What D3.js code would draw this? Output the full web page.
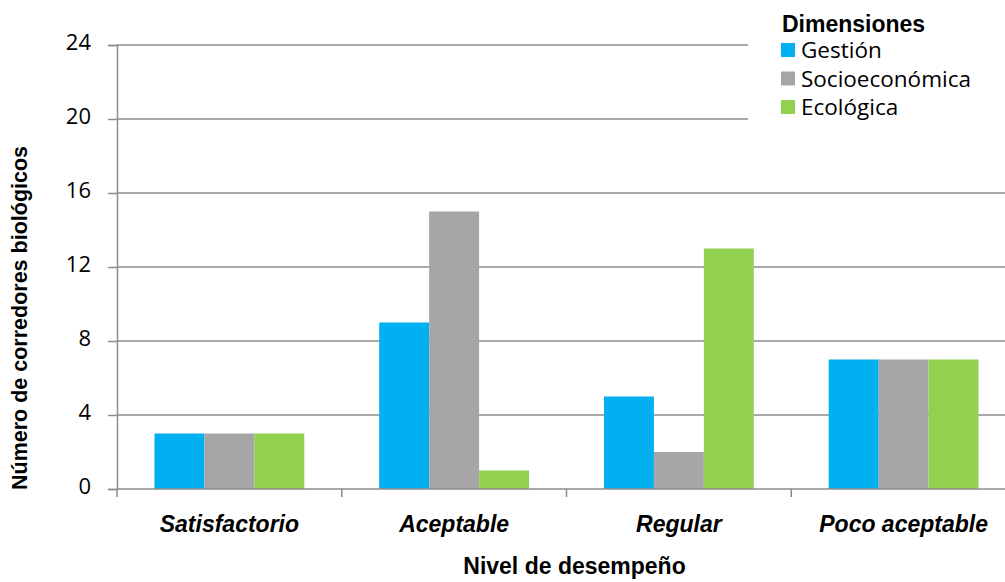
<!DOCTYPE html>
<html>
<head>
<meta charset="utf-8">
<script src="https://cdn.jsdelivr.net/npm/d3@7"></script>
<style>
  body { margin: 0; background: #fff; }
  text { font-family: "Liberation Sans", Arial, sans-serif; }
</style>
</head>
<body>
<script>
// chart data
const categories = ['Satisfactorio', 'Aceptable', 'Regular', 'Poco aceptable'];
const seriesNames = ['Gestión', 'Socioeconómica', 'Ecológica'];
const gestion = [3, 9, 5, 7];
const socioeconomica = [3, 15, 2, 7];
const ecologica = [3, 1, 13, 7];
const yTicks = [0, 4, 8, 12, 16, 20, 24];
const colors = ['#00b0f0', '#a6a6a6', '#92d050'];

const W = 1005, H = 582;
const m = { left: 117, right: -11, top: 45, bottom: 93 };

const svg = d3.select('body')
  .append('svg')
  .attr('width', W)
  .attr('height', H);

const x = d3.scaleBand()
  .domain(categories)
  .range([m.left, W - m.right])
  .paddingInner(0)
  .paddingOuter(0);

const x1 = d3.scaleBand()
  .domain(seriesNames)
  .range([x.bandwidth() / 6, x.bandwidth() * 5 / 6]);

const y = d3.scaleLinear()
  .domain([0, 24])
  .range([H - m.bottom, m.top]);

// gridlines
svg.append('g')
  .selectAll('line')
  .data(yTicks.slice(1))
  .enter()
  .append('line')
  .attr('x1', m.left)
  .attr('x2', W)
  .attr('y1', d => y(d))
  .attr('y2', d => y(d))
  .attr('stroke', '#8c8c8c')
  .attr('stroke-width', 1.5);

// bars
const rows = categories.map((c, i) => ({
  cat: c,
  vals: [gestion[i], socioeconomica[i], ecologica[i]]
}));

const groups = svg.append('g')
  .selectAll('g')
  .data(rows)
  .enter()
  .append('g')
  .attr('transform', d => 'translate(' + x(d.cat) + ',0)');

groups.selectAll('rect')
  .data(d => d.vals.map((v, k) => ({ name: seriesNames[k], v, k })))
  .enter()
  .append('rect')
  .attr('x', d => x1(d.name))
  .attr('width', x1.bandwidth())
  .attr('y', d => y(d.v))
  .attr('height', d => y(0) - y(d.v))
  .attr('fill', d => colors[d.k]);

// y axis
const yAxis = svg.append('g')
  .attr('transform', 'translate(' + m.left + ',0)')
  .call(d3.axisLeft(y).tickValues(yTicks).tickSize(9).tickPadding(17));
yAxis.select('.domain').attr('stroke', '#8c8c8c').attr('stroke-width', 1.5);
yAxis.selectAll('.tick line').attr('stroke', '#8c8c8c').attr('stroke-width', 1.5);
yAxis.selectAll('.tick text')
  .attr('font-size', 22)
  .attr('fill', '#000')
  .attr('dy', '0.2em')
  .style('font-family', '"Open Sans", "Liberation Sans", sans-serif');

// x axis
const xAxis = svg.append('g')
  .attr('transform', 'translate(0,' + y(0) + ')');
xAxis.append('line')
  .attr('x1', m.left).attr('x2', W)
  .attr('stroke', '#8c8c8c').attr('stroke-width', 1.5);
xAxis.selectAll('.xt')
  .data(categories)
  .enter()
  .append('line')
  .attr('class', 'xt')
  .attr('x1', d => x(d)).attr('x2', d => x(d))
  .attr('y1', 0).attr('y2', 8)
  .attr('stroke', '#8c8c8c').attr('stroke-width', 1.5);
xAxis.selectAll('.xl')
  .data(categories)
  .enter()
  .append('text')
  .attr('class', 'xl')
  .attr('x', d => x(d) + x.bandwidth() / 2)
  .attr('y', 43)
  .attr('text-anchor', 'middle')
  .attr('font-size', 23)
  .attr('font-weight', 'bold')
  .attr('font-style', 'italic')
  .text(d => d);

// axis titles
svg.append('text')
  .attr('x', x(categories[0]) + x.bandwidth() * 2 + 8)
  .attr('y', 574)
  .attr('text-anchor', 'middle')
  .attr('font-size', 23)
  .attr('font-weight', 'bold')
  .text('Nivel de desempeño');

svg.append('text')
  .attr('transform', 'translate(27,' + 318 + ') rotate(-90)')
  .attr('text-anchor', 'middle')
  .attr('font-size', 21.5)
  .attr('font-weight', 'bold')
  .text('Número de corredores biológicos');

// legend
const legend = svg.append('g');
legend.append('rect')
  .attr('x', 748).attr('y', 0)
  .attr('width', W - 748).attr('height', 126)
  .attr('fill', '#fff');
legend.append('text')
  .attr('x', 782).attr('y', 32)
  .attr('font-size', 23)
  .attr('font-weight', 'bold')
  .text('Dimensiones');
const li = legend.selectAll('.li')
  .data(seriesNames)
  .enter()
  .append('g')
  .attr('class', 'li')
  .attr('transform', (d, i) => 'translate(781,' + (43 + i * 28.5) + ')');
li.append('rect')
  .attr('width', 14).attr('height', 14)
  .attr('fill', (d, i) => colors[i]);
li.append('text')
  .attr('x', 20).attr('y', 15)
  .attr('font-size', 22.5)
  .style('font-family', '"Open Sans", "Liberation Sans", sans-serif')
  .text(d => d);
</script>
</body>
</html>
